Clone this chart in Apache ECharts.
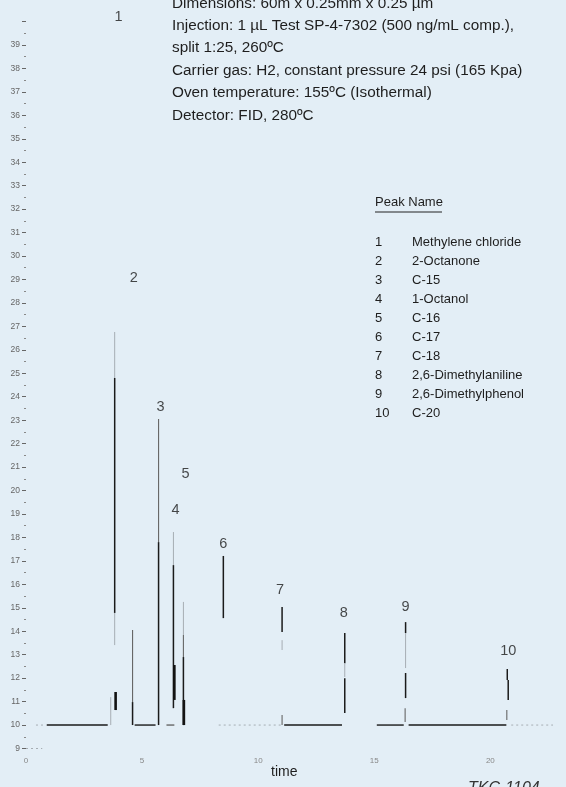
<!DOCTYPE html>
<html>
<head>
<meta charset="utf-8">
<script src="https://cdn.jsdelivr.net/npm/echarts@6/dist/echarts.min.js"></script>
<style>
html,body{margin:0;padding:0;background:#e3eef6;}
#c{width:566px;height:787px;}
</style>
</head>
<body>
<div id="c"></div>
<script>
// ---- data ----
// vertical trace pieces of the chromatogram: time (min), low, high, shade (0 dark,1 medium,2 faint,3 thick)
const segTime  = [3.82, 3.82, 3.82, 3.86, 3.65, 4.59, 4.59, 5.71, 5.71, 6.35, 6.35, 6.39, 6.78, 6.78, 6.78, 6.80, 8.50, 11.03, 11.03, 11.03, 13.73, 13.73, 13.73, 16.35, 16.35, 16.35, 16.33, 20.73, 20.77, 20.71];
const segLow   = [24.80, 14.78, 13.41, 10.64, 10.00, 10.98, 10.00, 17.80, 10.00, 16.82, 10.72, 11.07, 13.84, 12.90, 10.00, 10.00, 14.56, 13.97, 13.20, 10.00, 12.64, 12.05, 10.51, 13.92, 12.43, 11.15, 10.13, 11.92, 11.07, 10.21];
const segHigh  = [26.76, 24.80, 14.78, 11.41, 11.19, 14.05, 10.98, 23.05, 17.80, 18.23, 16.82, 12.56, 15.25, 13.84, 12.90, 11.07, 17.21, 15.03, 13.62, 10.43, 13.92, 12.64, 12.00, 14.39, 13.92, 12.22, 10.72, 12.39, 11.92, 10.64];
const segShade = [2, 0, 2, 3, 2, 1, 0, 1, 0, 2, 0, 3, 2, 1, 0, 3, 0, 0, 2, 1, 0, 2, 0, 0, 2, 0, 1, 0, 0, 1];
// horizontal baseline pieces: start, end, level, shade (0 solid, 1 medium, 2 dotted faint)
const baseStart = [0.43, 0.90, 4.68, 6.05, 8.30, 11.12, 15.11, 16.48, 20.90, 0.00];
const baseEnd   = [0.90, 3.52, 5.58, 6.39, 11.00, 13.61, 16.27, 20.69, 22.70, 0.70];
const baseLevel = [10, 10, 10, 10, 10, 10, 10, 10, 10, 9];
const baseShade = [2, 0, 0, 1, 2, 0, 0, 0, 2, 2];
// peak number labels: position (time, signal)
const peakNumbers = ['1', '2', '3', '4', '5', '6', '7', '8', '9', '10'];
const peakLabelTime  = [3.99, 4.64, 5.79, 6.44, 6.87, 8.50, 10.94, 13.69, 16.35, 20.77];
const peakLabelValue = [40.19, 29.06, 23.56, 19.17, 20.70, 17.72, 15.76, 14.78, 15.03, 13.16];
const peakNames = ['Methylene chloride', '2-Octanone', 'C-15', '1-Octanol', 'C-16', 'C-17', 'C-18', '2,6-Dimethylaniline', '2,6-Dimethylphenol', 'C-20'];
const conditions = [
  'Dimensions: 60m x 0.25mm x 0.25 \u00b5m',
  'Injection: 1 \u00b5L Test SP-4-7302 (500 ng/mL comp.),',
  'split 1:25, 260\u00baC',
  'Carrier gas: H2, constant pressure 24 psi (165 Kpa)',
  'Oven temperature: 155\u00baC (Isothermal)',
  'Detector: FID, 280\u00baC'
];
const xTicks = [0, 5, 10, 15, 20];

// ---- chart ----
const FONT = '"Liberation Sans", Arial, sans-serif';
const shadeColor = ['#1a1a1a', '#666', '#a6adb3', '#131313'];
const shadeWidth = [1.5, 1.1, 1, 2.6];

const chart = echarts.init(document.getElementById('c'), null, {renderer: 'canvas'});

const graphics = [];
const condY = [5, 27, 49, 72, 94, 117];
conditions.forEach((t, i) => {
  graphics.push({type: 'text', left: 172, top: condY[i] - 9, silent: true,
    style: {text: t, font: '15.3px ' + FONT, fill: '#1e1e1e'}});
});
graphics.push({type: 'text', left: 375, top: 196, silent: true,
  style: {text: 'Peak Name', font: '13px ' + FONT, fill: '#1e1e1e'}});
graphics.push({type: 'line', silent: true, shape: {x1: 375, y1: 212, x2: 442, y2: 212},
  style: {stroke: '#222', lineWidth: 1}});
peakNames.forEach((n, i) => {
  const y = 243 + i * 19.0 - 7.5;
  graphics.push({type: 'text', left: 375, top: y, silent: true,
    style: {text: peakNumbers[i], font: '13px ' + FONT, fill: '#1e1e1e'}});
  graphics.push({type: 'text', left: 412, top: y, silent: true,
    style: {text: n, font: '13px ' + FONT, fill: '#1e1e1e'}});
});
graphics.push({type: 'text', left: 271, top: 765, silent: true,
  style: {text: 'time', font: '14px ' + FONT, fill: '#1e1e1e'}});
graphics.push({type: 'text', left: 468, top: 781, silent: true,
  style: {text: 'TKC-1104', font: 'italic 16px ' + FONT, fill: '#333'}});

chart.setOption({
  backgroundColor: '#e3eef6',
  animation: false,
  grid: {left: 26, right: 0, top: 21.5, bottom: 38.5, containLabel: false},
  xAxis: {
    type: 'value', min: 0, max: 23.13, interval: 5,
    axisLine: {show: false}, axisTick: {show: false}, splitLine: {show: false},
    axisLabel: {fontSize: 8, color: '#888', margin: 8, fontFamily: FONT,
      formatter: v => xTicks.indexOf(v) >= 0 ? String(v) : ''}
  },
  yAxis: {
    type: 'value', min: 9, max: 40, interval: 1,
    axisLine: {show: false}, splitLine: {show: false},
    axisTick: {show: true, length: 4, lineStyle: {color: '#666', width: 1}},
    minorTick: {show: true, splitNumber: 2, length: 2, lineStyle: {color: '#888'}},
    axisLabel: {fontSize: 8.5, color: '#666', margin: 6, fontFamily: FONT,
      formatter: v => (v >= 40 ? '' : String(v))}
  },
  graphic: graphics,
  series: [
    {
      type: 'custom', silent: true, clip: false,
      data: baseStart.map((s, i) => [s, baseEnd[i], baseLevel[i], baseShade[i]]),
      encode: {x: [0, 1], y: 2},
      renderItem: (params, api) => {
        const p0 = api.coord([api.value(0), api.value(2)]);
        const p1 = api.coord([api.value(1), api.value(2)]);
        const s = api.value(3);
        return {type: 'line', shape: {x1: p0[0], y1: p0[1], x2: p1[0], y2: p1[1]},
          style: {stroke: shadeColor[s], lineWidth: s === 2 ? 1 : 1.4,
            lineDash: s === 2 ? [2, 3] : null}};
      }
    },
    {
      type: 'custom', silent: true, clip: false,
      data: segTime.map((t, i) => [t, segLow[i], segHigh[i], segShade[i]]),
      encode: {x: 0, y: [1, 2]},
      renderItem: (params, api) => {
        const t = api.value(0), s = api.value(3);
        const p0 = api.coord([t, api.value(1)]);
        const p1 = api.coord([t, api.value(2)]);
        return {type: 'line', shape: {x1: p0[0], y1: p0[1], x2: p1[0], y2: p1[1]},
          style: {stroke: shadeColor[s], lineWidth: shadeWidth[s]}};
      }
    },
    {
      type: 'scatter', silent: true, clip: false, symbolSize: 0,
      data: peakLabelTime.map((t, i) => [t, peakLabelValue[i], peakNumbers[i]]),
      label: {show: true, position: 'inside', fontSize: 14.5, color: '#1a1a1a', fontFamily: FONT,
        formatter: p => p.data[2]}
    }
  ]
});
</script>
</body>
</html>
